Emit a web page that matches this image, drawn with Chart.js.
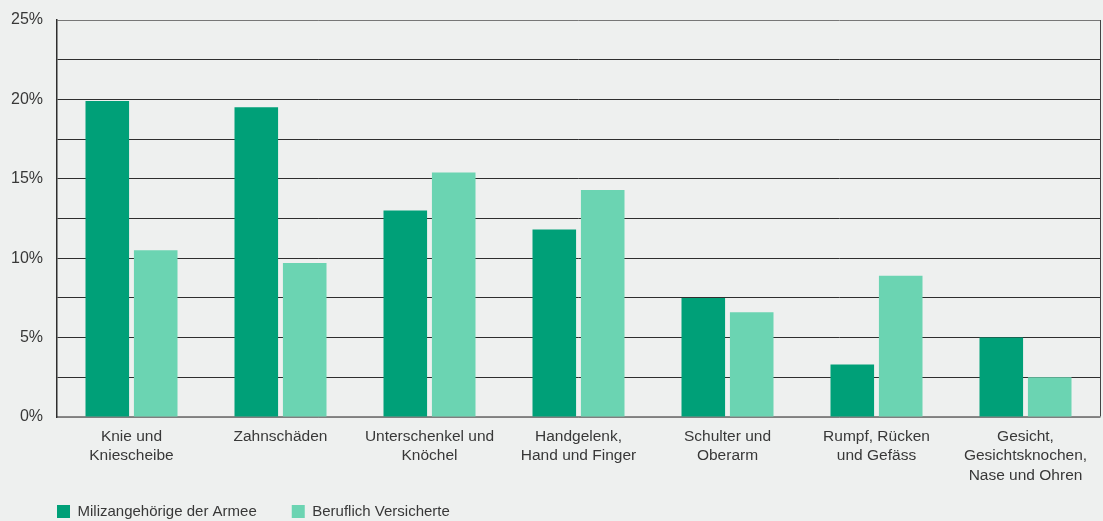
<!DOCTYPE html>
<html>
<head>
<meta charset="utf-8">
<script src="https://cdn.jsdelivr.net/npm/chart.js@4"></script>
<style>
  html, body { margin: 0; padding: 0; background: #eef0ef; }
  #wrap { width: 1103px; height: 521px; }
</style>
</head>
<body>
<div id="wrap"><canvas id="myChart" width="1103" height="521"></canvas></div>
<script>
const categories = [
    ["Knie und", "Kniescheibe"],
    "Zahnschäden",
    ["Unterschenkel und", "Knöchel"],
    ["Handgelenk,", "Hand und Finger"],
    ["Schulter und", "Oberarm"],
    ["Rumpf, Rücken", "und Gefäss"],
    ["Gesicht,", "Gesichtsknochen,", "Nase und Ohren"]
];
const miliz = [19.9, 19.5, 13.0, 11.8, 7.5, 3.3, 5.0];
const beruflich = [10.5, 9.7, 15.4, 14.3, 6.6, 8.9, 2.5];

Chart.defaults.font.family = "'Liberation Sans', Arial, sans-serif";
Chart.defaults.color = "#383838";

const LEGEND_X = 57, LEGEND_Y = 505, LEGEND_GAP = 35;

// legend takes little room in the layout and is drawn at a fixed spot
// under the axis labels, lined up with the y axis
const legendPlace = {
    id: 'legendPlace',
    afterInit(chart) {
        const legend = chart.legend;
        const fit = legend.fit;
        legend.fit = function () {
            fit.call(this);
            this.height = 34;
        };
        legend.draw = function () {
            if (!this.options.display) return;
            const ctx = this.ctx;
            ctx.save();
            ctx.translate(LEGEND_X - (this.left + LEGEND_GAP), LEGEND_Y - (this.top + LEGEND_GAP + 1));
            this._draw();
            ctx.restore();
        };
    }
};

new Chart(document.getElementById("myChart"), {
    type: 'bar',
    data: {
        labels: categories,
        datasets: [
            {
                label: "Milizangehörige der Armee",
                backgroundColor: "#00a078",
                data: miliz
            },
            {
                label: "Beruflich Versicherte",
                backgroundColor: "#6bd4b2",
                data: beruflich
            }
        ]
    },
    plugins: [legendPlace],
    options: {
        responsive: false,
        maintainAspectRatio: false,
        animation: false,
        layout: { padding: { left: 0, right: 3, top: 20, bottom: 0 } },
        datasets: {
            bar: { categoryPercentage: 0.65, barPercentage: 0.9 }
        },
        plugins: {
            legend: {
                position: 'bottom',
                align: 'start',
                labels: {
                    boxWidth: 13,
                    boxHeight: 13,
                    padding: LEGEND_GAP,
                    font: { size: 15 },
                    color: "#383838"
                }
            },
            tooltip: { enabled: false }
        },
        scales: {
            x: {
                afterFit: scale => { scale.height = 70; },
                grid: {
                    offset: true,
                    drawTicks: false,
                    color: ctx => ctx.tick ? "rgba(0,0,0,0)" : "#444"
                },
                border: { color: "#888", width: 1.5 },
                ticks: {
                    font: { size: 15.5, lineHeight: 1.25 },
                    padding: 10,
                    maxRotation: 0,
                    autoSkip: false
                }
            },
            y: {
                min: 0,
                max: 25,
                afterFit: scale => {
                    scale.width = 57;
                    scale.paddingTop = 0;
                    scale.paddingBottom = 0;
                },
                grid: {
                    color: ctx => ctx.tick && (ctx.tick.value === 0 || ctx.tick.value === 25) ? "#777" : "#2e2e2e",
                    drawTicks: false
                },
                border: { color: "#2e2e2e", width: 1.5 },
                ticks: {
                    stepSize: 2.5,
                    padding: 14,
                    font: { size: 16 },
                    callback: v => v % 5 === 0 ? v + "%" : ""
                }
            }
        }
    }
});
</script>
</body>
</html>
